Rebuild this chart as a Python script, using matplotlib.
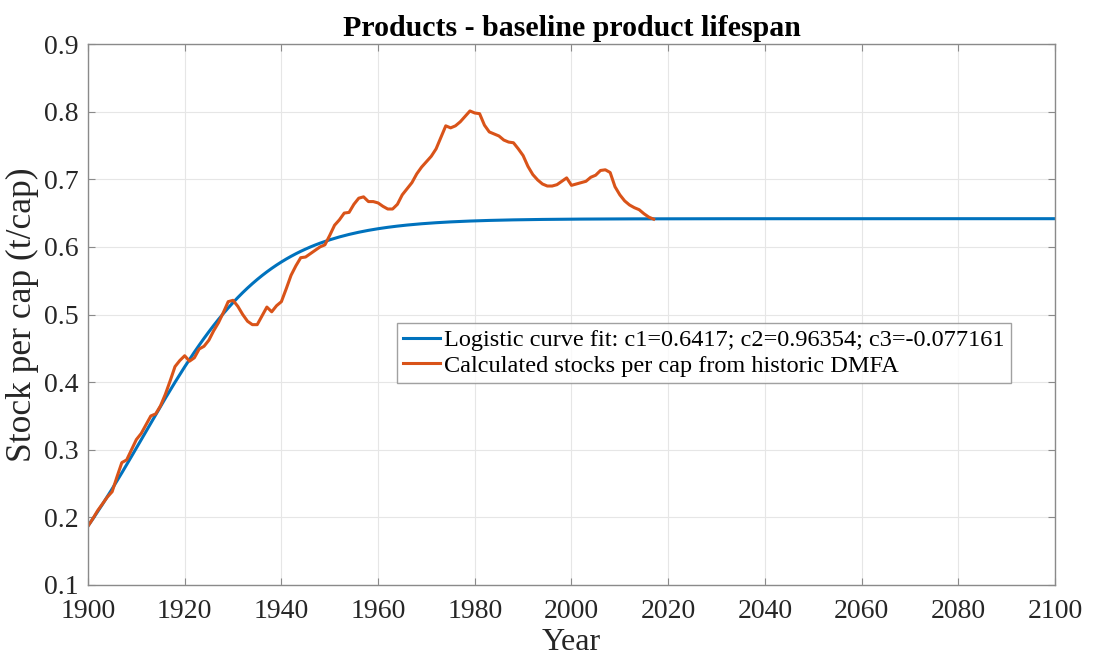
import numpy as np
import matplotlib.pyplot as plt

plt.rcParams['font.family'] = ['Liberation Serif', 'DejaVu Serif']

# logistic fit parameters
c1 = 0.6417
c2 = 0.96354
c3 = -0.077161

fit_years = np.arange(1900, 2101)

# stock per capita from the historic DMFA, 1900-2017
stock_per_cap = [
    0.187, 0.198, 0.210, 0.220, 0.230, 0.238, 0.260, 0.281, 0.285, 0.300,
    0.315, 0.324, 0.337, 0.350, 0.353, 0.365, 0.382, 0.402, 0.423, 0.432,
    0.439, 0.431, 0.436, 0.449, 0.453, 0.462, 0.476, 0.488, 0.503, 0.519,
    0.521, 0.512, 0.500, 0.490, 0.485, 0.485, 0.498, 0.511, 0.504, 0.513,
    0.519, 0.538, 0.558, 0.572, 0.584, 0.585, 0.590, 0.595, 0.600, 0.603,
    0.617, 0.632, 0.640, 0.650, 0.651, 0.663, 0.672, 0.674, 0.667, 0.667,
    0.665, 0.660, 0.656, 0.656, 0.663, 0.677, 0.686, 0.695, 0.708, 0.718,
    0.726, 0.734, 0.745, 0.762, 0.779, 0.776, 0.779, 0.785, 0.793, 0.801,
    0.798, 0.797, 0.780, 0.770, 0.767, 0.764, 0.758, 0.755, 0.754, 0.745,
    0.735, 0.719, 0.707, 0.699, 0.693, 0.690, 0.690, 0.692, 0.697, 0.702,
    0.691, 0.693, 0.695, 0.697, 0.703, 0.706, 0.713, 0.714, 0.710, 0.689,
    0.677, 0.668, 0.662, 0.658, 0.655, 0.649, 0.644, 0.641,
]
stock_years = np.arange(1900, 1900 + len(stock_per_cap))

xticks = np.arange(1900, 2101, 20)
yticks = np.arange(0.1, 0.91, 0.1)

t = fit_years - 1899
fit = c1 / (1 + np.exp(c2 + c3 * t))

fig = plt.figure(figsize=(10.93, 6.57), dpi=100)
ax = fig.add_axes([0.0805, 0.1096, 0.8847, 0.8234])

ax.plot(fit_years, fit, color='#0072BD', lw=2.2,
        label=f'Logistic curve fit: c1={c1}; c2={c2}; c3={c3}')
ax.plot(stock_years, stock_per_cap, color='#D95319', lw=2.2,
        label='Calculated stocks per cap from historic DMFA')

ax.set_xlim(1900, 2100)
ax.set_ylim(0.1, 0.9)
ax.set_xticks(xticks)
ax.set_yticks(yticks)
ax.set_yticklabels([f'{v:.1f}' for v in yticks])
ax.grid(True, color='#e6e6e6', lw=0.8)
ax.set_axisbelow(True)
for s in ax.spines.values():
    s.set_color('#8a8a8a')
    s.set_linewidth(1.0)
ax.tick_params(direction='in', length=5, width=0.8, color='#8a8a8a',
               top=True, right=True, labelsize=20, labelcolor='#262626')
ax.tick_params(axis='y', pad=7)
ax.tick_params(axis='x', pad=10)

ax.set_xlabel('Year', fontsize=23, color='#262626', labelpad=3)
ax.set_ylabel('Stock per cap (t/cap)', fontsize=25.5, color='#262626', labelpad=3)
ax.set_title('Products - baseline product lifespan', fontsize=21.5,
             fontweight='bold', pad=6)

leg = ax.legend(loc='upper left', bbox_to_anchor=(397 / 1093, 1 - 323 / 657),
                bbox_transform=fig.transFigure, fontsize=17.5, frameon=True,
                fancybox=False, edgecolor='#8a8a8a', handlelength=1.5,
                handletextpad=0.2, borderpad=0.25, labelspacing=0.15,
                borderaxespad=0)
leg.get_frame().set_linewidth(1.0)

fig.savefig('out.png', dpi=100)
